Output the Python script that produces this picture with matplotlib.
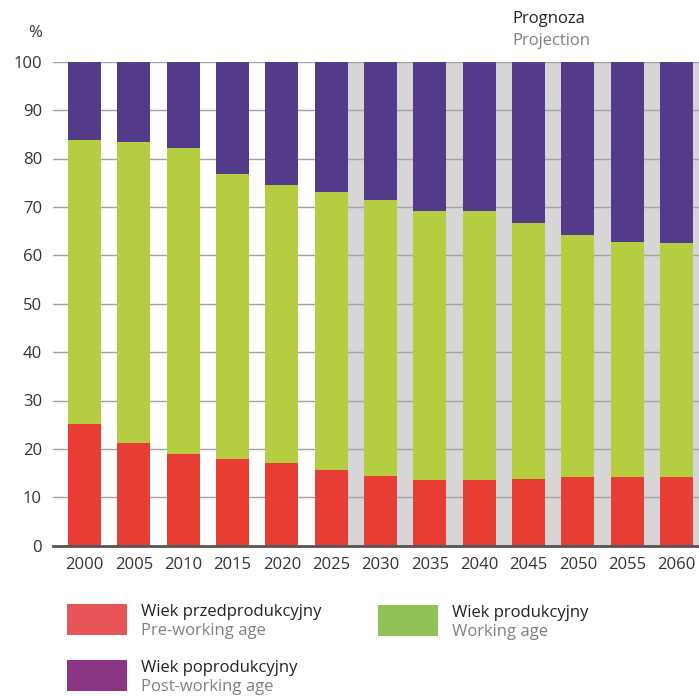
import numpy as np
import matplotlib
matplotlib.use("Agg")
import matplotlib.pyplot as plt
from matplotlib.patches import Rectangle

plt.rcParams['font.family'] = ['Open Sans', 'DejaVu Sans']

# ── dane ──
years = ["2000", "2005", "2010", "2015", "2020", "2025", "2030",
         "2035", "2040", "2045", "2050", "2055", "2060"]
pre_working = [25.1, 21.2, 18.9, 17.9, 17.1, 15.6, 14.4, 13.6, 13.6, 13.8, 14.2, 14.2, 14.2]
working = [58.7, 62.2, 63.3, 58.9, 57.4, 57.5, 57.0, 55.5, 55.5, 52.8, 50.0, 48.5, 48.3]
post_working = [16.2, 16.6, 17.8, 23.2, 25.5, 26.9, 28.6, 30.9, 30.9, 33.4, 35.8, 37.3, 37.5]
yticks = [0, 10, 20, 30, 40, 50, 60, 70, 80, 90, 100]
first_projection = "2030"

C_RED, C_GREEN, C_PURPLE = "#E73D33", "#B5CD41", "#533B8A"
L_RED, L_GREEN, L_PURPLE = "#E85558", "#92C157", "#8B3585"
BG_GRAY = "#D7D5D6"

fig = plt.figure(figsize=(6.99, 6.96), dpi=100)
ax = fig.add_axes([53/699, 150.3/696, 1 - 53/699, 484/696])

x = np.arange(len(years))
w = 0.67
pre = np.array(pre_working)
wrk = np.array(working)
post = np.array(post_working)

# tło prognozy
p0 = years.index(first_projection) - 1 + w/2
ax.axvspan(p0, 20, color=BG_GRAY, zorder=0, lw=0)

for t in yticks[1:]:
    ax.axhline(t, color="#A3A3A3", lw=1.0, zorder=1)

ax.bar(x, pre, w, color=C_RED, zorder=2, lw=0)
ax.bar(x, wrk, w, bottom=pre, color=C_GREEN, zorder=2, lw=0)
ax.bar(x, post, w, bottom=pre + wrk, color=C_PURPLE, zorder=2, lw=0)

ax.set_xlim(-0.64, 12.456)
ax.set_ylim(0, 100)
ax.set_yticks(yticks)
ax.set_xticks(x)
ax.set_xticklabels(years)
ax.tick_params(axis="both", length=0, labelsize=12, colors="#333333")
ax.tick_params(axis="y", pad=8)
ax.tick_params(axis="x", pad=8)
for s in ["top", "right", "left"]:
    ax.spines[s].set_visible(False)
ax.spines["bottom"].set_color("#555555")
ax.spines["bottom"].set_linewidth(2)
ax.spines["bottom"].set_zorder(3)

# teksty nad wykresem (współrzędne w pikselach)
lg = fig.add_axes([0, 0, 1, 1], zorder=-1)
lg.set_xlim(0, 699); lg.set_ylim(696, 0); lg.axis("off")
lg.text(35, 33, "%", ha="center", va="center", fontsize=12, color="#333333")
lg.text(512, 19, "Prognoza", ha="left", va="center", fontsize=12, color="#222222")
lg.text(512, 41, "Projection", ha="left", va="center", fontsize=12, color="#808080")

# legenda
items = [
    (67, 604, L_RED, "Wiek przedprodukcyjny", "Pre-working age"),
    (378, 605, L_GREEN, "Wiek produkcyjny", "Working age"),
    (67, 660, L_PURPLE, "Wiek poprodukcyjny", "Post-working age"),
]
for lx, ly, col, pl, en in items:
    lg.add_patch(Rectangle((lx, ly), 60, 31, color=col, lw=0))
    lg.text(lx + 74, ly + 8, pl, ha="left", va="center", fontsize=12, color="#222222")
    lg.text(lx + 74, ly + 27, en, ha="left", va="center", fontsize=12, color="#808080")

fig.savefig("out.png", dpi=100)
